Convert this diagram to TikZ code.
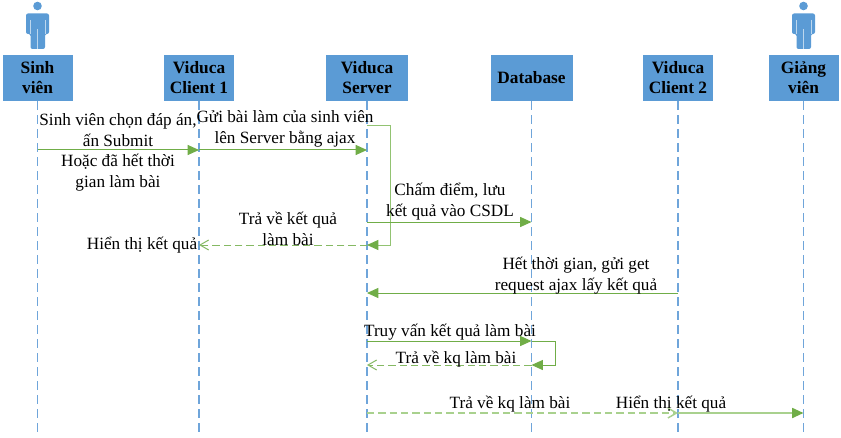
\documentclass[tikz,border=0pt]{standalone}
\usepackage{fontspec}
\setmainfont{Liberation Serif}
\usetikzlibrary{arrows.meta,positioning}

\definecolor{boxblue}{HTML}{5B9BD5}
\definecolor{lifeblue}{HTML}{6FA5DA}
\definecolor{msggreen}{HTML}{70AD47}
\definecolor{lightgreen}{HTML}{A9D18E}

\begin{document}
\begin{tikzpicture}[
    x=0.75pt,y=0.75pt,
    actor/.style={rectangle,fill=boxblue,draw=white,line width=0.4pt,minimum height=35.25pt,inner sep=0pt,align=center,font=\fontsize{13}{15}\selectfont\bfseries,text=black},
    narrow/.style={actor,minimum width=53.25pt},
    wide/.style={actor,minimum width=62pt},
    life/.style={draw=lifeblue,line width=0.8pt,dash pattern=on 6.5pt off 4pt},
    msg/.style={draw=msggreen,line width=0.75pt,-{Triangle[length=8.5pt,width=7.5pt,color=msggreen,fill=msggreen]}},
    reply/.style={draw=msggreen!85!white,line width=0.75pt,dash pattern=on 5.5pt off 3pt,-{Straight Barb[length=6.5pt,width=7.5pt]}},
    label/.style={align=center,inner sep=0pt,text=black,font=\fontsize{12.9}{15.75}\selectfont},
    person/.pic={
        \fill[boxblue] (0,-6) circle (4.3);
        \fill[boxblue,rounded corners=1.5pt] (-11.5,-34) -- (-11.5,-13.5) -- (11.5,-13.5) -- (11.5,-34) -- (7.5,-34) -- (7.5,-49) -- (-7,-49) -- (-7,-34) -- cycle;
        \draw[white!60!boxblue,line width=0.3pt] (0,-29) -- (0,-49) (-7,-20) -- (-7,-34) (7.5,-20) -- (7.5,-34);
    }]

    \useasboundingbox (0,0) rectangle (841,-438);

    % Actors
    \node[narrow] (sv) at (37.5,-77.5) {Sinh\\viên};
    \node[narrow] (cl1) at (199,-77.5) {Viduca\\Client 1};
    \node[wide] (srv) at (367,-77.5) {Viduca\\Server};
    \node[wide] (db) at (531.5,-77.5) {Database};
    \node[narrow] (cl2) at (678,-77.5) {Viduca\\Client 2};
    \node[narrow] (gv) at (803.5,-77.5) {Giảng\\viên};

    \pic at (37.5,0) {person};
    \pic at (803.5,0) {person};

    % Lifelines
    \coordinate (bottom) at (0,-435);
    \foreach \who in {sv,cl1,srv,db,cl2,gv}
        \path[life] (\who.south) -- (\who |- bottom);

    % Rows of messages
    \coordinate (r1) at (0,-126);
    \coordinate (r2) at (0,-150);
    \coordinate (r3) at (0,-222);
    \coordinate (r4) at (0,-245);
    \coordinate (r5) at (0,-293);
    \coordinate (r6) at (0,-341);
    \coordinate (r7) at (0,-365);
    \coordinate (r8) at (0,-413);
    \coordinate (turn1) at (390.5,0);
    \coordinate (turn2) at (555,0);

    % Messages
    \path[msg] (sv |- r2) -- (cl1 |- r2);
    \path[msg] (cl1 |- r2) -- (srv |- r2);
    \path[msg,draw=lightgreen!60!msggreen] (srv |- r1) -- (turn1 |- r1) -- (turn1 |- r4) -- (srv |- r4);
    \path[msg] (srv |- r3) -- (db |- r3);
    \path[reply] (srv |- r4) -- (cl1 |- r4);
    \path[msg] (cl2 |- r5) -- (srv |- r5);
    \path[msg] (srv |- r6) -- (db |- r6);
    \path[msg] (db |- r6) -- (turn2 |- r6) -- (turn2 |- r7) -- (db |- r7);
    \path[reply] (db |- r7) -- (srv |- r7);
    \path[reply,draw=lightgreen,line width=1.1pt] (srv |- r8) -- (cl2 |- r8);
    \path[msg,draw=lightgreen,line width=1.3pt] (cl2 |- r8) -- (gv |- r8);

    % Labels
    \node[label] (t1) at (118,-130.5) {Sinh viên chọn đáp án,\\ấn Submit};
    \node[label] (t2) at (118,-172.5) {Hoặc đã hết thời\\gian làm bài};
    \node[label] (t3) at (285,-129) {Gửi bài làm của sinh viên\\lên Server bằng ajax};
    \node[label] (t4) at (450,-201.5) {Chấm điểm, lưu\\kết quả vào CSDL};
    \node[label] (t5) at (288,-228.5) {Trả về kết quả\\làm bài};
    \node[label] (t6) at (142,-245) {Hiển thị kết quả};
    \node[label] (t7) at (576,-275.5) {Hết thời gian, gửi get\\request ajax lấy kết quả};
    \node[label] (t8) at (450,-332) {Truy vấn kết quả làm bài};
    \node[label] (t9) at (456,-359) {Trả về kq làm bài};
    \node[label] (t10) at (510,-404) {Trả về kq làm bài};
    \node[label] (t11) at (671,-404) {Hiển thị kết quả};
\end{tikzpicture}
\end{document}
